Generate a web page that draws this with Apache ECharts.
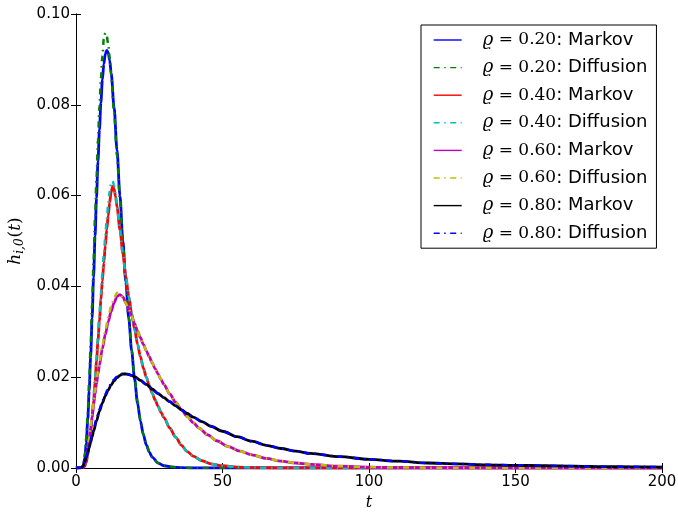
<!DOCTYPE html>
<html>
<head>
<meta charset="utf-8">
<script src="https://cdn.jsdelivr.net/npm/echarts@6/dist/echarts.min.js"></script>
<style>html,body{margin:0;padding:0;background:#fff;}#c{width:678px;height:512px;}</style>
</head>
<body>
<div id="c"></div>
<script>
// ---- data ----
var xTicks = [0, 50, 100, 150, 200];
var yTicks = ['0.00', '0.02', '0.04', '0.06', '0.08', '0.10'];
var rhoLabels = ['0.20', '0.40', '0.60', '0.80'];

var t02 = [0,2,2.5,3,3.5,4,4.5,5,5.5,6,6.5,7,7.5,8,8.5,9,9.5,10,10.5,11,11.5,12,13,14,15,16,17,18,19,20,21,22,23,24,25,26,28,30,33,36,40,200];
var markov02 = [0,0.0001,0.0006,0.0022,0.0055,0.0105,0.0170,0.0245,0.0330,0.0420,0.0510,0.0595,0.0675,0.0745,0.0805,0.0855,0.0890,0.0912,0.0920,0.0915,0.0898,0.0870,0.0795,0.0700,0.0600,0.0500,0.0410,0.0330,0.0258,0.0195,0.0143,0.0103,0.0073,0.0051,0.0035,0.0024,0.0011,0.0005,0.0002,0.0001,0,0];
var diff02 = [0,0.0002,0.0009,0.0030,0.0066,0.0122,0.0192,0.0272,0.0362,0.0458,0.0552,0.0640,0.0722,0.0796,0.0858,0.0908,0.0945,0.0958,0.0952,0.0932,0.0902,0.0865,0.0782,0.0688,0.0592,0.0496,0.0408,0.0330,0.0260,0.0198,0.0147,0.0106,0.0075,0.0053,0.0036,0.0025,0.0011,0.0005,0.0002,0.0001,0,0];

var t04 = [0,2.5,3,3.5,4,4.5,5,5.5,6,6.5,7,7.5,8,8.5,9,9.5,10,10.5,11,11.5,12,12.5,13,13.5,14,15,16,17,18,19,20,21,22,23,24,25,26,27,28,29,30,32,34,36,38,40,43,46,50,55,60,70,200];
var markov04 = [0,0.0001,0.0004,0.0012,0.0028,0.0050,0.0078,0.0110,0.0148,0.0190,0.0235,0.0280,0.0325,0.0370,0.0412,0.0452,0.0490,0.0525,0.0556,0.0585,0.0608,0.0620,0.0615,0.0598,0.0575,0.0525,0.0472,0.0422,0.0378,0.0340,0.0305,0.0273,0.0245,0.0220,0.0200,0.0182,0.0165,0.0150,0.0136,0.0123,0.0111,0.0088,0.0068,0.0050,0.0036,0.0026,0.0016,0.0009,0.0005,0.0002,0.0001,0,0];
var diff04 = [0,0.0001,0.0005,0.0014,0.0031,0.0054,0.0083,0.0116,0.0155,0.0198,0.0244,0.0291,0.0338,0.0384,0.0428,0.0470,0.0510,0.0548,0.0582,0.0610,0.0628,0.0632,0.0622,0.0602,0.0577,0.0525,0.0472,0.0422,0.0378,0.0340,0.0305,0.0273,0.0245,0.0220,0.0200,0.0182,0.0165,0.0150,0.0136,0.0123,0.0111,0.0088,0.0068,0.0050,0.0036,0.0026,0.0016,0.0009,0.0005,0.0002,0.0001,0,0];

var t06 = [0,2.5,3,3.5,4,4.5,5,5.5,6,6.5,7,7.5,8,9,10,11,12,13,14,15,16,17,18,19,20,21,22,23,24,25,26,27,28,29,30,32,34,36,38,40,42,45,48,52,56,60,65,70,75,80,90,100,110,130,200];
var markov06 = [0,0.0002,0.0008,0.0020,0.0040,0.0063,0.0088,0.0113,0.0138,0.0162,0.0185,0.0207,0.0227,0.0263,0.0294,0.0322,0.0345,0.0364,0.0378,0.0382,0.0377,0.0364,0.0350,0.0335,0.0318,0.0302,0.0287,0.0272,0.0258,0.0245,0.0232,0.0219,0.0207,0.0195,0.0184,0.0163,0.0145,0.0128,0.0113,0.0100,0.0088,0.0073,0.0060,0.0047,0.0037,0.0029,0.0021,0.0015,0.0011,0.0008,0.0004,0.0002,0.0001,0.00005,0];
var diff06 = [0,0.0002,0.0009,0.0022,0.0043,0.0067,0.0092,0.0118,0.0143,0.0168,0.0191,0.0213,0.0234,0.0271,0.0303,0.0332,0.0356,0.0375,0.0386,0.0383,0.0376,0.0363,0.0350,0.0335,0.0318,0.0302,0.0287,0.0272,0.0258,0.0245,0.0232,0.0219,0.0207,0.0195,0.0184,0.0163,0.0145,0.0128,0.0113,0.0100,0.0088,0.0073,0.0060,0.0047,0.0037,0.0029,0.0021,0.0015,0.0011,0.0008,0.0004,0.0002,0.0001,0.00005,0];

var t08 = [0,2,2.5,3,3.5,4,4.5,5,5.5,6,7,8,9,10,11,12,13,14,15,16,17,18,19,20,22,24,26,28,30,32,34,36,38,40,43,46,50,55,60,65,70,75,80,90,100,110,120,130,140,150,160,170,180,190,200];
var markov08 = [0,0.0001,0.0005,0.0013,0.0023,0.0034,0.0045,0.0057,0.0069,0.0081,0.0104,0.0125,0.0143,0.0159,0.0172,0.0183,0.0192,0.0199,0.0204,0.0207,0.0207,0.0206,0.0204,0.0201,0.0193,0.0184,0.0174,0.0164,0.0155,0.0146,0.0137,0.0128,0.0120,0.0112,0.0102,0.0092,0.0081,0.0069,0.0059,0.0050,0.0043,0.0037,0.0032,0.0025,0.0019,0.0015,0.0011,0.0009,0.0007,0.0006,0.0005,0.0004,0.0003,0.00025,0.0002];
var diff08 = [0,0.0001,0.0006,0.0015,0.0026,0.0037,0.0049,0.0061,0.0073,0.0085,0.0108,0.0129,0.0147,0.0162,0.0175,0.0186,0.0195,0.0201,0.0206,0.0208,0.0208,0.0206,0.0204,0.0201,0.0193,0.0184,0.0174,0.0164,0.0155,0.0146,0.0137,0.0128,0.0120,0.0112,0.0102,0.0092,0.0081,0.0069,0.0059,0.0050,0.0043,0.0037,0.0032,0.0025,0.0019,0.0015,0.0011,0.0009,0.0007,0.0006,0.0005,0.0004,0.0003,0.00025,0.0002];

// ---- build chart ----
var groups = [
  {t: t02, m: markov02, d: diff02, cm: '#0000ff', cd: '#008000'},
  {t: t04, m: markov04, d: diff04, cm: '#ff0000', cd: '#00bfbf'},
  {t: t06, m: markov06, d: diff06, cm: '#bf00bf', cd: '#bfbf00'},
  {t: t08, m: markov08, d: diff08, cm: '#000000', cd: '#0000ff'}
];
function zip(a, b) { return a.map(function (v, i) { return [v, b[i]]; }); }
var series = [], names = [];
groups.forEach(function (g, i) {
  var nm = 'ϱ = ' + rhoLabels[i] + ': Markov';
  var nd = 'ϱ = ' + rhoLabels[i] + ': Diffusion';
  names.push(nm, nd);
  series.push({
    name: nm, type: 'line', data: zip(g.t, g.m), showSymbol: false, symbol: 'none',
    smooth: 0.3, smoothMonotone: 'x', z: 2 + 2 * i,
    lineStyle: {color: g.cm, width: 2.8, type: 'solid'}, itemStyle: {color: g.cm}
  });
  series.push({
    name: nd, type: 'line', data: zip(g.t, g.d), showSymbol: false, symbol: 'none',
    smooth: 0.3, smoothMonotone: 'x', z: 3 + 2 * i,
    lineStyle: {color: g.cd, width: 2.5, type: [6, 4.5, 1.5, 4.5]}, itemStyle: {color: g.cd}
  });
});

var chart = echarts.init(document.getElementById('c'), null, {renderer: 'canvas'});
var tickLbl = {color: '#000', fontFamily: 'DejaVu Sans', fontSize: 15};
chart.setOption({
  animation: false,
  backgroundColor: '#fff',
  grid: {left: 76, right: 16, top: 14, bottom: 44, containLabel: false, outerBoundsMode: 'none'},
  legend: {
    data: names, orient: 'vertical', left: 421, top: 25,
    padding: [5, 9, 5, 12], itemGap: 7.6, itemWidth: 28, itemHeight: 10,
    borderColor: '#000', borderWidth: 1, backgroundColor: '#fff',
    lineStyle: {width: 1.4},
    itemStyle: {opacity: 0},
    formatter: function (n) {
      var p = n.split(': ');
      var num = p[0].replace('ϱ = ', '');
      return '{g|ϱ}{e| = ' + num + '}{s|: ' + p[1] + '}';
    },
    textStyle: {
      color: '#000', fontSize: 18, lineHeight: 20,
      rich: {
        g: {fontFamily: 'DejaVu Serif', fontStyle: 'italic', fontSize: 18, lineHeight: 20, padding: [0, 0, 0, 16]},
        e: {fontFamily: 'DejaVu Serif', fontSize: 17, lineHeight: 20},
        s: {fontFamily: 'DejaVu Sans', fontSize: 18, lineHeight: 20}
      }
    }
  },
  xAxis: [{
    type: 'value', min: xTicks[0], max: xTicks[xTicks.length - 1], interval: 50,
    position: 'bottom',
    name: 't', nameLocation: 'middle', nameGap: 25,
    nameTextStyle: {fontFamily: 'DejaVu Serif', fontStyle: 'italic', fontSize: 16, color: '#000'},
    axisLine: {show: true, lineStyle: {color: '#000', width: 1}},
    axisTick: {show: true, inside: true, length: 5, lineStyle: {color: '#000'}},
    axisLabel: Object.assign({margin: 7}, tickLbl),
    splitLine: {show: false}
  }, {
    type: 'value', min: 0, max: 200, interval: 50, position: 'top',
    axisLine: {show: true, lineStyle: {color: '#000', width: 1}},
    axisTick: {show: true, inside: true, length: 5, lineStyle: {color: '#000'}},
    axisLabel: {show: false}, splitLine: {show: false}
  }],
  yAxis: [{
    type: 'value', min: 0, max: 0.1, interval: 0.02, position: 'left',
    name: '{a|h}{s|i,0}{p|(}{a|t}{p|)}', nameLocation: 'middle', nameGap: 41,
    nameTextStyle: {
      color: '#000',
      rich: {
        a: {fontFamily: 'DejaVu Serif', fontStyle: 'italic', fontSize: 17, lineHeight: 22},
        s: {fontFamily: 'DejaVu Serif', fontStyle: 'italic', fontSize: 12, lineHeight: 22, padding: [9, 1, 0, 0]},
        p: {fontFamily: 'DejaVu Serif', fontSize: 17, lineHeight: 22}
      }
    },
    axisLine: {show: true, lineStyle: {color: '#000', width: 1}},
    axisTick: {show: true, inside: true, length: 5, lineStyle: {color: '#000'}},
    axisLabel: Object.assign({margin: 6, formatter: function (v) { return yTicks[Math.round(v / 0.02)]; }}, tickLbl),
    splitLine: {show: false}
  }, {
    type: 'value', min: 0, max: 0.1, interval: 0.02, position: 'right',
    axisLine: {show: true, lineStyle: {color: '#000', width: 1}},
    axisTick: {show: true, inside: true, length: 5, lineStyle: {color: '#000'}},
    axisLabel: {show: false}, splitLine: {show: false}
  }],
  series: series
});
</script>
</body>
</html>
